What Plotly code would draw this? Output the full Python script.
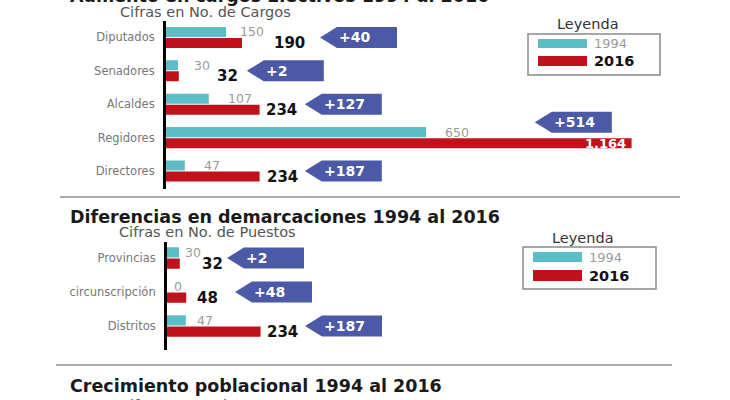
import plotly.graph_objects as go

# datos: cargos electivos
cargos = ["Diputados", "Senadores", "Alcaldes", "Regidores", "Directores"]
cargos_1994 = [150, 30, 107, 650, 47]
cargos_2016 = [190, 32, 234, 1164, 234]

# datos: demarcaciones
puestos = ["Provincias", "circunscripción", "Distritos"]
puestos_1994 = [30, 0, 47]
puestos_2016 = [32, 48, 234]

# where the "+n" flags sit (data units of x, offset in rows)
flag_x1 = [385, 202, 347, 922, 347]
flag_dy1 = [0, 0, 0, -0.46, 0]
flag_x2 = [150, 170, 345]
flag_dy2 = [0, 0, 0]
# pixel gaps between bar end and its value label
gap_old1 = [12, 14, 17, 17, 17]
gap_new1 = [30, 36, 4, 0, 5]
gap_old2 = [4, 5, 9]
gap_new2 = [20, 9, 4]

W, H = 730, 400
FONT = "DejaVu Sans"
CYAN = "#5bbdc6"
RED = "#c1121c"
BLUE = "#4b59a6"
PX = 2.5  # data units per pixel on the x axes

fig = go.Figure()


def px(x):
    return x / W


def py(y):
    return 1 - y / H


def section(xa, ya, cats, old, new, fx, fdy, gap_old, gap_new, fh):
    n = len(cats)
    fig.add_trace(go.Bar(x=old, y=[i - 0.165 for i in range(n)], orientation="h",
                         width=0.3, marker=dict(color=CYAN, line_width=0),
                         xaxis=xa, yaxis=ya))
    fig.add_trace(go.Bar(x=new, y=[i + 0.165 for i in range(n)], orientation="h",
                         width=0.3, marker=dict(color=RED, line_width=0),
                         xaxis=xa, yaxis=ya))
    for i in range(n):
        fig.add_annotation(x=old[i], y=i - 0.165, xref=xa, yref=ya, text=str(old[i]),
                           xanchor="left", yanchor="middle", xshift=gap_old[i], showarrow=False,
                           font=dict(family=FONT, size=12.5, color="#9a9a9a"))
        if new[i] > 1000:
            fig.add_annotation(x=new[i], y=i + 0.165, xref=xa, yref=ya, text=f"{new[i]:,}",
                               xanchor="right", yanchor="middle", xshift=-4, showarrow=False,
                               font=dict(family=FONT, size=13, color="white", weight="bold"))
        else:
            fig.add_annotation(x=new[i], y=i + 0.165, xref=xa, yref=ya, text=f"{new[i]:,}",
                               xanchor="left", yanchor="middle", xshift=gap_new[i], showarrow=False,
                               font=dict(family=FONT, size=15, color="#111", weight="bold"))
        # flag with the difference
        tip = fx[i]
        cy = i + fdy[i]
        t = 17 * PX
        r = tip + 77 * PX
        fig.add_trace(go.Scatter(x=[tip, tip + t, r, r, tip + t, tip],
                                 y=[cy, cy - fh / 2, cy - fh / 2, cy + fh / 2, cy + fh / 2, cy],
                                 fill="toself", fillcolor=BLUE, mode="lines", line_width=0,
                                 xaxis=xa, yaxis=ya, hoverinfo="skip"))
        fig.add_annotation(x=tip + t, y=cy, xref=xa, yref=ya, text=f"+{new[i] - old[i]}",
                           xanchor="left", yanchor="middle", showarrow=False,
                           font=dict(family=FONT, size=14, color="white", weight="bold"))


section("x", "y", cargos, cargos_1994, cargos_2016, flag_x1, flag_dy1, gap_old1, gap_new1, 0.63)
section("x2", "y2", puestos, puestos_1994, puestos_2016, flag_x2, flag_dy2, gap_old2, gap_new2, 0.62)


def legend(cx, ty, x0, y0, x1, y1, c1, c2):
    fig.add_annotation(x=px(cx), y=py(ty), xref="paper", yref="paper", text="Leyenda",
                       xanchor="center", yanchor="middle", showarrow=False,
                       font=dict(family=FONT, size=14.5, color="#333"))
    fig.add_shape(type="rect", xref="paper", yref="paper", x0=px(x0), x1=px(x1),
                  y0=py(y0), y1=py(y1), line=dict(color="#8a8a8a", width=1.5))
    for (a, b), col, txt, fnt in [(c1, CYAN, "1994", dict(size=13, color="#9a9a9a")),
                                  (c2, RED, "2016", dict(size=14.5, color="#111", weight="bold"))]:
        fig.add_shape(type="rect", xref="paper", yref="paper", x0=px(x0 + 10), x1=px(x0 + 59),
                      y0=py(a), y1=py(b), fillcolor=col, line_width=0)
        fig.add_annotation(x=px(x0 + 64), y=py((a + b) / 2), xref="paper", yref="paper",
                           text=txt, xanchor="left", yanchor="middle", showarrow=False,
                           font=dict(family=FONT, **fnt))


legend(588, 24, 528, 34, 660, 75, (39, 48), (56, 66))
legend(583, 238, 523, 247, 656, 289, (252, 262), (270, 281))

titles = [
    ("Aumento en cargos Electivos 1994 al 2016", 68, -4, True),
    ("Cifras en No. de Cargos", 118, 12, False),
    ("Diferencias en demarcaciones 1994 al 2016", 68, 217, True),
    ("Cifras en No. de Puestos", 117, 232, False),
    ("Crecimiento poblacional 1994 al 2016", 68, 386, True),
    ("Cifras en No. de Personas", 118, 405, False),
]
for txt, x, y, big in titles:
    f = dict(family=FONT, size=17.5, color="#1a1a1a", weight="bold") if big else \
        dict(family=FONT, size=14.5, color="#555")
    fig.add_annotation(x=px(x), y=py(y), xref="paper", yref="paper", text=txt,
                       xanchor="left", yanchor="middle", showarrow=False, font=f)

for y, x0, x1 in [(197, 60, 680), (365, 56, 672)]:
    fig.add_shape(type="line", xref="paper", yref="paper", x0=px(x0), x1=px(x1),
                  y0=py(y), y1=py(y), line=dict(color="#aaaaaa", width=2))

yax = dict(showline=True, linecolor="black", linewidth=3, showgrid=False, zeroline=False,
           ticks="", ticklabelstandoff=6, tickfont=dict(family=FONT, size=11.5, color="#777"))
fig.update_layout(
    width=W, height=H, margin=dict(l=0, r=0, t=0, b=0),
    paper_bgcolor="white", plot_bgcolor="rgba(0,0,0,0)", showlegend=False,
    barmode="overlay",
    xaxis=dict(domain=[px(166), px(700)], range=[0, 1335], visible=False, anchor="y"),
    yaxis=dict(domain=[py(189.4), py(20.75)], range=[4.55, -0.5],
               tickvals=list(range(len(cargos))), ticktext=cargos, anchor="x", **yax),
    xaxis2=dict(domain=[px(167), px(701)], range=[0, 1335], visible=False, anchor="y2"),
    yaxis2=dict(domain=[py(349.8), py(242)], range=[2.7, -0.47],
                tickvals=list(range(len(puestos))), ticktext=puestos, anchor="x2", **yax),
)

fig.write_html("out.html", config={"displayModeBar": False},
               post_script="document.body.style.margin='0';")
